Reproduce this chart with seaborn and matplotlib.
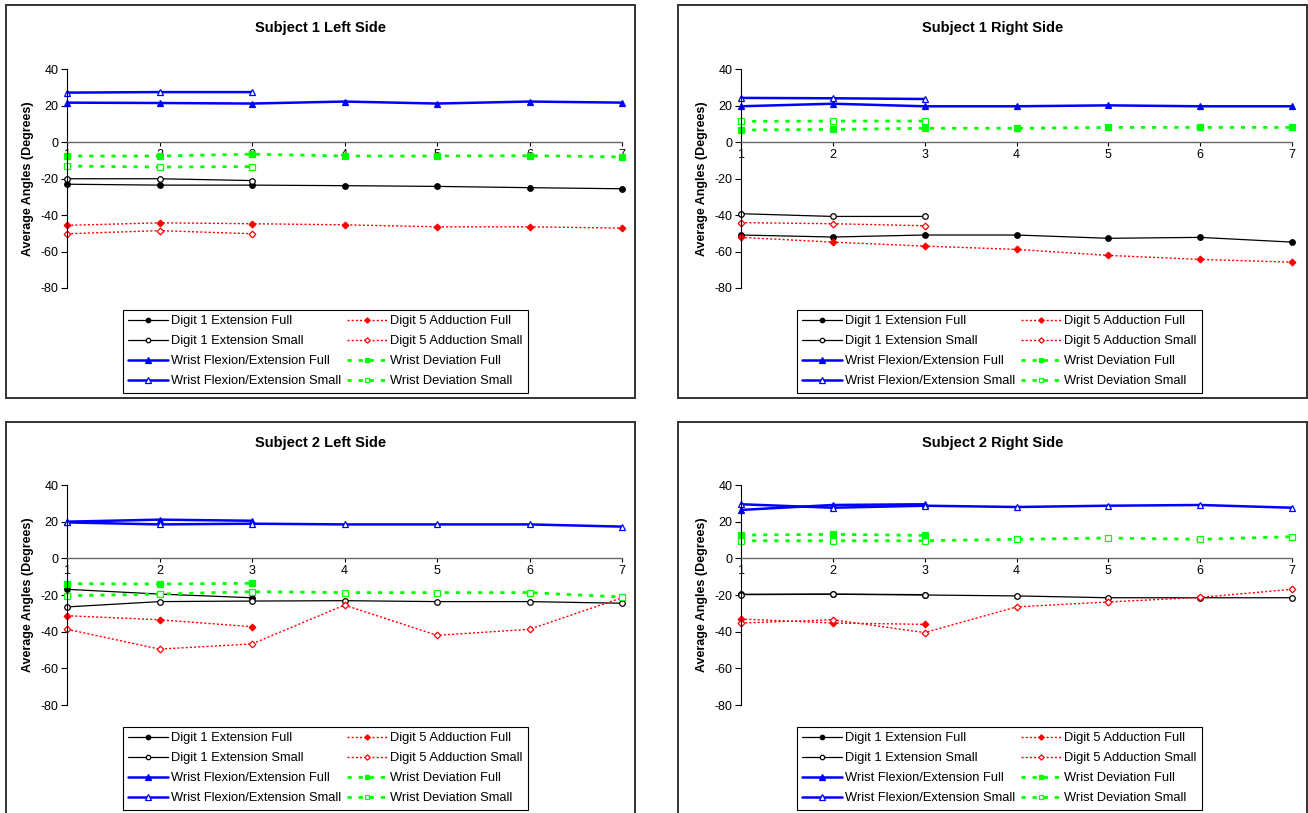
import matplotlib
matplotlib.use("Agg")
import matplotlib.pyplot as plt
from matplotlib.patches import Rectangle
import seaborn as sns

# ---------------- data ----------------
trials = [1, 2, 3, 4, 5, 6, 7]
y_ticks = [-80, -60, -40, -20, 0, 20, 40]

panel_titles = ["Subject 1 Left Side", "Subject 1 Right Side",
                "Subject 2 Left Side", "Subject 2 Right Side"]

series_labels = {
    "d1_full": "Digit 1 Extension Full",
    "d1_small": "Digit 1 Extension Small",
    "wf_full": "Wrist Flexion/Extension Full",
    "wf_small": "Wrist Flexion/Extension Small",
    "d5_full": "Digit 5 Adduction Full",
    "d5_small": "Digit 5 Adduction Small",
    "wd_full": "Wrist Deviation Full",
    "wd_small": "Wrist Deviation Small",
}

# Subject 1 Left
s1l_d1_full = [-23.0, -23.5, -23.5, -23.8, -24.2, -24.9, -25.5]
s1l_d1_small = [-20.0, -20.0, -21.0]
s1l_d5_full = [-45.6, -44.2, -44.7, -45.3, -46.4, -46.4, -47.1]
s1l_d5_small = [-50.2, -48.5, -50.2]
s1l_wf_full = [21.8, 21.6, 21.3, 22.4, 21.3, 22.4, 21.8]
s1l_wf_small = [27.3, 27.6, 27.6]
s1l_wd_full = [-7.5, -7.5, -6.5, -7.5, -7.5, -7.3, -8.0]
s1l_wd_small = [-13.0, -13.6, -13.3]

# Subject 1 Right
s1r_d1_full = [-50.9, -52.0, -50.9, -50.9, -52.7, -52.2, -54.8]
s1r_d1_small = [-39.2, -40.7, -40.7]
s1r_d5_full = [-52.2, -54.8, -57.0, -58.8, -62.1, -64.3, -65.8]
s1r_d5_small = [-44.1, -44.7, -45.8]
s1r_wf_full = [19.8, 21.2, 19.8, 19.8, 20.3, 19.8, 19.8]
s1r_wf_small = [24.4, 24.2, 23.8]
s1r_wd_full = [6.8, 7.1, 7.7, 7.7, 8.2, 8.2, 8.2]
s1r_wd_small = [11.5, 11.7, 11.7]

# Subject 2 Left
s2l_d1_full = [-16.9, -19.5, -21.5]
s2l_d1_small = [-26.5, -23.6, -23.3, -23.1, -23.6, -23.6, -24.5]
s2l_d5_full = [-31.3, -33.5, -37.3]
s2l_d5_small = [-38.7, -49.5, -46.7, -25.5, -42.0, -38.7, -21.5]
s2l_wf_full = [20.0, 21.1, 20.5]
s2l_wf_small = [19.6, 18.5, 18.9, 18.5, 18.5, 18.5, 17.3]
s2l_wd_full = [-13.8, -14.0, -13.6]
s2l_wd_small = [-20.4, -19.5, -18.2, -18.7, -18.7, -18.7, -21.1]

# Subject 2 Right
s2r_d1_full = [-19.6, -19.5, -19.8]
s2r_d1_small = [-19.8, -19.6, -20.0, -20.5, -21.5, -21.5, -21.5]
s2r_d5_full = [-33.1, -35.3, -36.0]
s2r_d5_small = [-35.3, -33.5, -40.5, -26.5, -23.8, -21.3, -16.9]
s2r_wf_full = [26.4, 29.1, 29.5]
s2r_wf_small = [29.5, 27.6, 28.7, 28.0, 28.7, 29.1, 27.6]
s2r_wd_full = [12.7, 13.1, 12.5]
s2r_wd_small = [9.6, 9.6, 9.6, 10.4, 11.1, 10.4, 11.8]

panel_data = [
    dict(d1_full=s1l_d1_full, d1_small=s1l_d1_small, d5_full=s1l_d5_full, d5_small=s1l_d5_small,
         wf_full=s1l_wf_full, wf_small=s1l_wf_small, wd_full=s1l_wd_full, wd_small=s1l_wd_small),
    dict(d1_full=s1r_d1_full, d1_small=s1r_d1_small, d5_full=s1r_d5_full, d5_small=s1r_d5_small,
         wf_full=s1r_wf_full, wf_small=s1r_wf_small, wd_full=s1r_wd_full, wd_small=s1r_wd_small),
    dict(d1_full=s2l_d1_full, d1_small=s2l_d1_small, d5_full=s2l_d5_full, d5_small=s2l_d5_small,
         wf_full=s2l_wf_full, wf_small=s2l_wf_small, wd_full=s2l_wd_full, wd_small=s2l_wd_small),
    dict(d1_full=s2r_d1_full, d1_small=s2r_d1_small, d5_full=s2r_d5_full, d5_small=s2r_d5_small,
         wf_full=s2r_wf_full, wf_small=s2r_wf_small, wd_full=s2r_wd_full, wd_small=s2r_wd_small),
]

# ---------------- styles ----------------
BLUE, RED, GREEN = "#0000FF", "#FF0000", "#00FF00"
styles = {
    "d1_full": dict(color="black", lw=0.9, ls="-", marker="o", ms=4.0, mfc="black"),
    "d1_small": dict(color="black", lw=0.9, ls="-", marker="o", ms=4.0, mfc="white"),
    "d5_full": dict(color=RED, lw=1.0, ls=(0, (1.5, 1.5)), marker="D", ms=3.4, mfc=RED),
    "d5_small": dict(color=RED, lw=1.0, ls=(0, (1.5, 1.5)), marker="D", ms=3.4, mfc="white"),
    "wf_full": dict(color=BLUE, lw=1.8, ls="-", marker="^", ms=5.0, mfc=BLUE),
    "wf_small": dict(color=BLUE, lw=1.8, ls="-", marker="^", ms=5.0, mfc="white"),
    "wd_full": dict(color=GREEN, lw=2.0, ls=(0, (1.5, 2.5)), marker="s", ms=4.0, mfc=GREEN),
    "wd_small": dict(color=GREEN, lw=2.0, ls=(0, (1.5, 2.5)), marker="s", ms=4.0, mfc="white"),
}
draw_order = ["d1_full", "d1_small", "d5_full", "d5_small", "wf_full", "wf_small", "wd_full", "wd_small"]
legend_order = ["d1_full", "d1_small", "wf_full", "wf_small", "d5_full", "d5_small", "wd_full", "wd_small"]

# ---------------- layout (pixels) ----------------
W, H = 1308, 813
layout = [
    dict(box=(6, 5, 635, 398), ax=(67, 69.5, 622, 288), leg=(123, 310), title_y=28),
    dict(box=(678, 5, 1307, 398), ax=(741, 69.5, 1292, 288), leg=(797, 310), title_y=28),
    dict(box=(6, 422, 635, 840), ax=(67, 485, 622, 705), leg=(123, 727), title_y=443),
    dict(box=(678, 422, 1307, 840), ax=(741, 485, 1292, 705), leg=(797, 727), title_y=443),
]

sns.set_theme(style="white")
plt.rcParams["font.family"] = ["Liberation Sans", "DejaVu Sans"]
plt.rcParams["axes.unicode_minus"] = False

fig = plt.figure(figsize=(W / 100, H / 100), dpi=100)
fig.patch.set_facecolor("white")


def fx(px):
    return px / W


def fy(py):
    return 1 - py / H


for title, data, lay in zip(panel_titles, panel_data, layout):
    bx0, by0, bx1, by1 = lay["box"]
    fig.add_artist(Rectangle((fx(bx0), fy(by1)), fx(bx1) - fx(bx0), fy(by0) - fy(by1),
                             transform=fig.transFigure, fill=False, lw=1.4,
                             edgecolor="#333333", zorder=0))
    axl, axt, axr, axb = lay["ax"]
    ax = fig.add_axes([fx(axl), fy(axb), fx(axr) - fx(axl), fy(axt) - fy(axb)])
    ax.set_facecolor("none")

    handles = {}
    for key in draw_order:
        vals = data[key]
        st = styles[key]
        sns.lineplot(x=trials[:len(vals)], y=vals, ax=ax, legend=False,
                     color=st["color"], linewidth=st["lw"], linestyle=st["ls"],
                     marker=st["marker"], markersize=st["ms"],
                     markerfacecolor=st["mfc"], markeredgecolor=st["color"],
                     markeredgewidth=0.9, label=series_labels[key], clip_on=False)
        handles[key] = ax.get_lines()[-1]

    ax.set_xlim(1, 7)
    ax.set_ylim(-80, 40)
    ax.set_xticks(trials)
    ax.set_yticks(y_ticks)
    ax.set_xlabel("")
    ax.set_ylabel("")
    for s in ("top", "right"):
        ax.spines[s].set_visible(False)
    ax.spines["bottom"].set_position(("data", 0))
    ax.spines["bottom"].set_color("#666666")
    ax.spines["bottom"].set_linewidth(1.0)
    ax.spines["left"].set_color("black")
    ax.spines["left"].set_linewidth(0.8)
    ax.tick_params(axis="y", left=True, direction="out", length=4, width=0.8,
                   colors="black", labelsize=9, pad=2)
    ax.tick_params(axis="x", bottom=True, direction="out", length=3, width=0.8,
                   colors="black", labelsize=9, pad=1.5)
    ax.grid(False)

    leg = ax.legend([handles[k] for k in legend_order],
                    [series_labels[k] for k in legend_order],
                    ncol=2, loc="upper left",
                    bbox_to_anchor=(fx(lay["leg"][0]), fy(lay["leg"][1])),
                    bbox_transform=fig.transFigure, fontsize=9.3, frameon=True,
                    fancybox=False, edgecolor="black", framealpha=1,
                    handlelength=3.1, handletextpad=0.2, columnspacing=0.5,
                    labelspacing=0.62, borderpad=0.4, borderaxespad=0,
                    markerscale=0.8)
    leg.get_frame().set_linewidth(0.8)
    for t in leg.get_texts():
        t.set_color("black")

    fig.text(fx((bx0 + bx1) / 2), fy(lay["title_y"]), title, ha="center", va="center",
             fontsize=10.5, fontweight="bold", color="black")
    fig.text(fx(axl - 39), fy((axt + axb) / 2), "Average Angles (Degrees)", rotation=90,
             ha="center", va="center", fontsize=9, fontweight="bold", color="black")

fig.savefig("out.png", dpi=100, facecolor="white")
